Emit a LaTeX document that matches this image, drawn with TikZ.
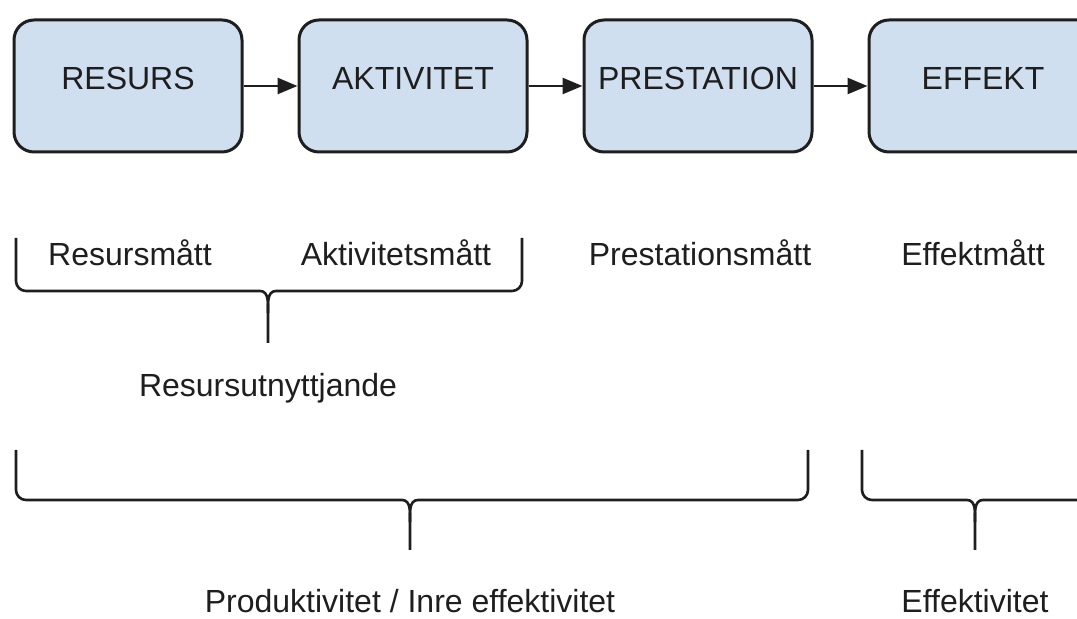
\documentclass[tikz,border=0pt]{standalone}
\usepackage{fontspec}
\setmainfont{Liberation Sans}
\usetikzlibrary{arrows.meta, positioning}
\definecolor{boxblue}{HTML}{CFDFF0}
\definecolor{inkgray}{HTML}{1E1E1E}
\newcommand{\ubrace}[6]{%
  \draw[brace] (#1,#4) -- (#1,#5-10) to[out=-90,in=180] (#1+10,#5) -- (#3-8,#5)
    to[out=0,in=90] (#3,#5+22) -- (#3,#6);
  \draw[brace] (#2,#4) -- (#2,#5-10) to[out=-90,in=0] (#2-10,#5) -- (#3+8,#5)
    to[out=180,in=90] (#3,#5+22);
}
\tikzset{
  stage/.style={draw=inkgray, line width=1.5pt, rounded corners=10pt, fill=boxblue,
    minimum width=114pt, minimum height=66pt, inner sep=0pt, text depth=8pt,
    text=inkgray, font=\fontsize{16}{19}\selectfont},
  measure/.style={anchor=base, inner sep=1pt, text=inkgray, font=\fontsize{16}{19}\selectfont},
  brace/.style={line width=1.3pt, inkgray},
  flow/.style={-{Triangle[length=10pt,width=8pt]}, line width=1.3pt, inkgray}
}

\begin{document}
\begin{tikzpicture}[x=0.5pt, y=-0.5pt]
  \useasboundingbox (0,0) rectangle (1077,619);

  % chain of stages
  \node[stage] (res) at (128,86) {RESURS};
  \node[stage, right=27pt of res] (akt) {AKTIVITET};
  \node[stage, right=27pt of akt] (pre) {PRESTATION};
  \node[stage, right=27pt of pre] (eff) {EFFEKT};

  \draw[flow] (res) -- (akt);
  \draw[flow] (akt) -- (pre);
  \draw[flow] (pre) -- (eff);

  % measures
  \node[measure] (resm) at (130,266) {Resursmått};
  \node[measure] (aktm) at (396,266) {Aktivitetsmått};
  \node[measure] (prem) at (700,266) {Prestationsmått};
  \node[measure] (effm) at (973,266) {Effektmått};

  % braces and what they sum up to
  \ubrace{16}{522}{268}{238}{291}{343}
  \node[measure] (util) at (268,397) {Resursutnyttjande};

  \ubrace{16}{808}{410}{450}{500}{550}
  \ubrace{862}{1100}{975}{450}{500}{550}
  \node[measure] (prod) at (410,613) {Produktivitet / Inre effektivitet};
  \node[measure] (effk) at (975,613) {Effektivitet};
\end{tikzpicture}
\end{document}
